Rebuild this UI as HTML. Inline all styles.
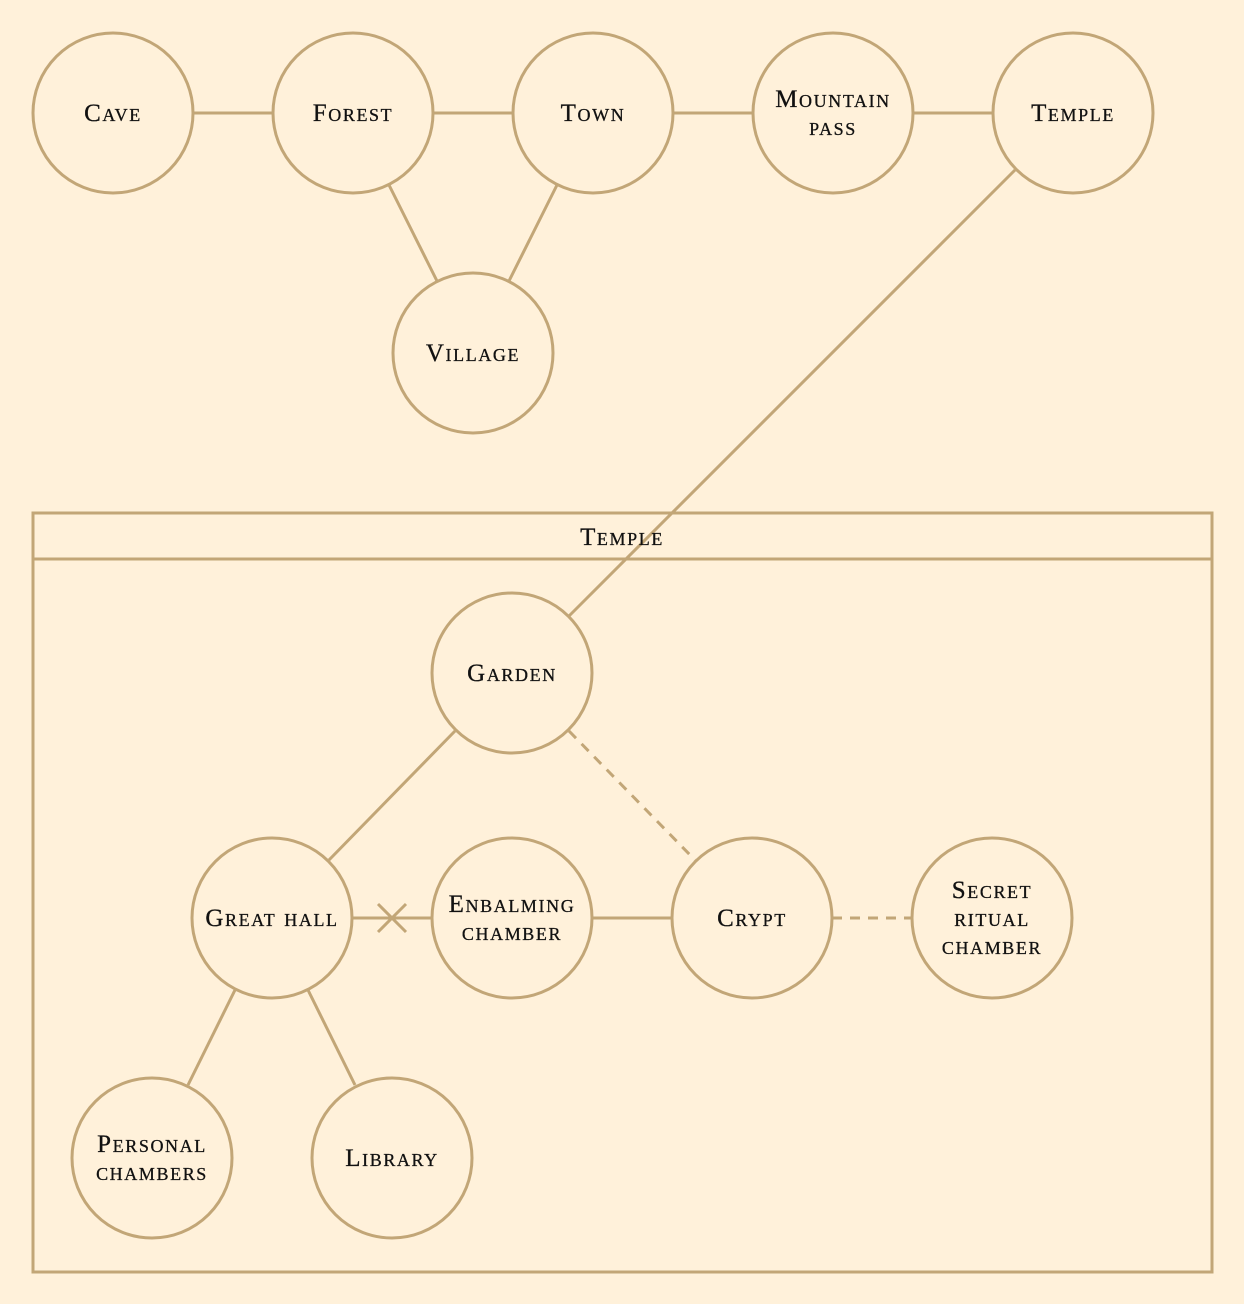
<!DOCTYPE html>
<html><head><meta charset="utf-8"><style>
html,body{margin:0;padding:0;background:#fff1da;}
svg{display:block}
text{font-family:"Liberation Serif",serif;font-variant:small-caps;font-size:25px;fill:#111;text-anchor:middle;letter-spacing:1.6px;stroke:#111;stroke-width:0.3px}
</style></head><body>
<svg width="1244" height="1304" viewBox="0 0 1244 1304" xmlns="http://www.w3.org/2000/svg">
<rect width="1244" height="1304" fill="#fff1da"/>
<g stroke="#c2a677" stroke-width="3" fill="none">
<rect x="33" y="513" width="1179" height="759"/>
<line x1="33" y1="559" x2="1212" y2="559"/>
<line x1="193" y1="113" x2="273" y2="113"/>
<line x1="433" y1="113" x2="513" y2="113"/>
<line x1="673" y1="113" x2="753" y2="113"/>
<line x1="913" y1="113" x2="993" y2="113"/>
<line x1="389" y1="185" x2="437" y2="281"/>
<line x1="557" y1="185" x2="509" y2="281"/>
<line x1="1015" y1="170" x2="569" y2="616"/>
<line x1="455" y1="731" x2="329" y2="860"/>
<line x1="569" y1="731" x2="695" y2="860" stroke-dasharray="10,8"/>
<line x1="352" y1="918" x2="432" y2="918"/>
<line x1="378" y1="904" x2="406" y2="932"/>
<line x1="406" y1="904" x2="378" y2="932"/>
<line x1="592" y1="918" x2="672" y2="918"/>
<line x1="832" y1="918" x2="912" y2="918" stroke-dasharray="10,8"/>
<line x1="235" y1="990" x2="188" y2="1085"/>
<line x1="308" y1="990" x2="355" y2="1085"/>
</g>
<g stroke="#c2a677" stroke-width="3" fill="#fff1da">
<circle cx="113" cy="113" r="80"/>
<circle cx="353" cy="113" r="80"/>
<circle cx="593" cy="113" r="80"/>
<circle cx="833" cy="113" r="80"/>
<circle cx="1073" cy="113" r="80"/>
<circle cx="473" cy="353" r="80"/>
<circle cx="512" cy="673" r="80"/>
<circle cx="272" cy="918" r="80"/>
<circle cx="512" cy="918" r="80"/>
<circle cx="752" cy="918" r="80"/>
<circle cx="992" cy="918" r="80"/>
<circle cx="152" cy="1158" r="80"/>
<circle cx="392" cy="1158" r="80"/>
</g>
<text x="113" y="121">Cave</text>
<text x="353" y="121">Forest</text>
<text x="593" y="121">Town</text>
<text x="833" y="107">Mountain</text>
<text x="833" y="135">pass</text>
<text x="1073" y="121">Temple</text>
<text x="473" y="361">Village</text>
<text x="622" y="545">Temple</text>
<text x="512" y="681">Garden</text>
<text x="272" y="926">Great hall</text>
<text x="512" y="912">Enbalming</text>
<text x="512" y="940">chamber</text>
<text x="752" y="926">Crypt</text>
<text x="992" y="898">Secret</text>
<text x="992" y="926">ritual</text>
<text x="992" y="954">chamber</text>
<text x="152" y="1152">Personal</text>
<text x="152" y="1180">chambers</text>
<text x="392" y="1166">Library</text>
</svg>
</body></html>
